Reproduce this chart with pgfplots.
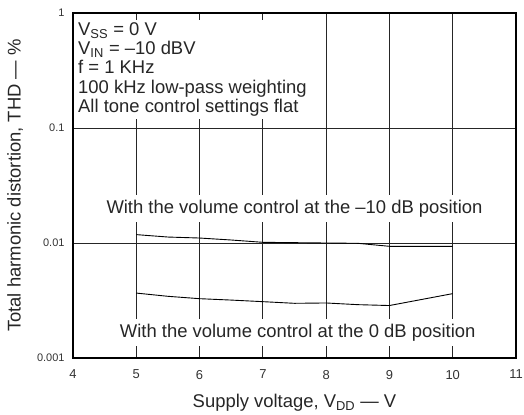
\documentclass[border=0pt]{standalone}
\usepackage{fontspec}
\setmainfont{Liberation Sans}
\usepackage{pgfplots}
\pgfplotsset{compat=1.18}

\newcommand{\labelfont}{\fontsize{18.5}{19.5}\selectfont}

\begin{document}
\begin{tikzpicture}[x=1bp,y=1bp]
\path[use as bounding box] (0,0) rectangle (524,414);
\begin{axis}[
    at={(73bp,56bp)}, anchor=south west,
    scale only axis, width=443bp, height=345bp,
    xmin=4, xmax=11,
    ymode=log, ymin=0.001, ymax=1,
    xtick={4,5,6,7,8,9,10,11},
    ytick={0.001,0.01,0.1,1},
    yticklabels={0.001,0.01,0.1,1},
    /pgf/number format/assume math mode=true,
    grid=major,
    major grid style={black!85, line width=0.8bp},
    axis line style={line width=1.2bp},
    tick style={draw=none},
    xticklabel style={font=\fontsize{13}{13}\selectfont, yshift=-8.5bp, text=black!80},
    yticklabel style={font=\fontsize{11}{11}\selectfont, xshift=-5bp, text=black!80},
    xlabel={Supply voltage, V\textsubscript{DD} --- V},
    ylabel={Total harmonic distortion, THD --- \%},
    xlabel style={font=\labelfont, at={(axis description cs:0.5,-0.1304)}, anchor=center, text=black!85},
    ylabel style={font=\labelfont, at={(axis description cs:-0.1309,0.5)}, anchor=center, text=black!85},
  ]
  % volume control at -10 dB
  \addplot[black, line width=0.9bp] coordinates {
    (5,0.01183) (5.5,0.01127) (6,0.01105) (6.5,0.01062) (7,0.01014)
    (8,0.0100) (8.5,0.00994) (9,0.00936) (9.5,0.00936) (10,0.00936)
  };
  % volume control at 0 dB
  \addplot[black, line width=0.9bp] coordinates {
    (5,0.00367) (5.5,0.00344) (6,0.00328) (6.5,0.00319) (7,0.00309)
    (7.5,0.00299) (8,0.00301) (8.5,0.00291) (9,0.00286) (10,0.00363)
  };

  \node[fill=white, inner xsep=4bp, inner ysep=4.8bp, font=\labelfont, text=black!85]
    at (axis cs:7.5,0.02) {With the volume control at the --10 dB position};
  \node[fill=white, inner xsep=4bp, inner ysep=4.8bp, font=\labelfont, text=black!85]
    at (axis cs:7.55,0.001655) {With the volume control at the 0 dB position};

  \node[fill=white, anchor=north west, align=left, inner xsep=4bp, inner ysep=2bp,
        font=\labelfont, text=black!85, xshift=1bp, yshift=-7bp]
    at (rel axis cs:0,1) {V\textsubscript{SS} = 0 V\\
      V\textsubscript{IN} = --10 dBV\\
      f = 1 KHz\\
      100 kHz low-pass weighting\\
      All tone control settings flat};

  \draw[line width=1.2bp] (rel axis cs:0,0) rectangle (rel axis cs:1,1);
\end{axis}
\end{tikzpicture}
\end{document}
